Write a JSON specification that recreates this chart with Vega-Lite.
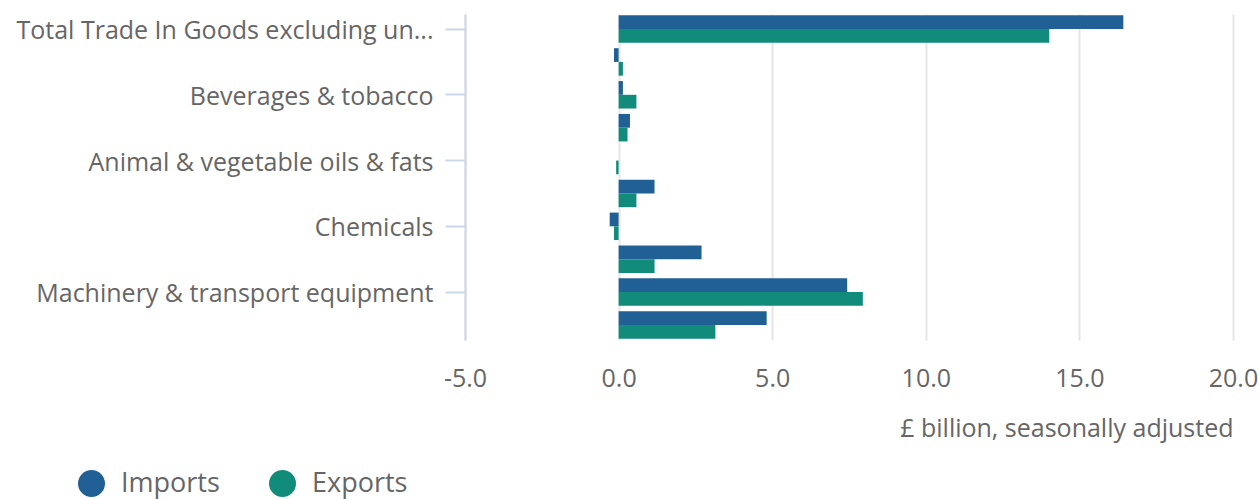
{
  "$schema": "https://vega.github.io/schema/vega-lite/v6.json",
  "width": 768,
  "height": 326,
  "autosize": {"type": "none"},
  "padding": {"left": 465, "top": 14, "right": 27, "bottom": 159},
  "background": "white",
  "config": {"font": "Open Sans", "view": {"stroke": null}},
  "data": {
    "values": [
      {"category": "Total Trade In Goods excluding unspecified goods", "series": "Imports", "value": 16.43},
      {"category": "Total Trade In Goods excluding unspecified goods", "series": "Exports", "value": 14.02},
      {"category": "Food & live animals", "series": "Imports", "value": -0.15},
      {"category": "Food & live animals", "series": "Exports", "value": 0.14},
      {"category": "Beverages & tobacco", "series": "Imports", "value": 0.14},
      {"category": "Beverages & tobacco", "series": "Exports", "value": 0.58},
      {"category": "Crude materials", "series": "Imports", "value": 0.37},
      {"category": "Crude materials", "series": "Exports", "value": 0.29},
      {"category": "Animal & vegetable oils & fats", "series": "Imports", "value": 0.0},
      {"category": "Animal & vegetable oils & fats", "series": "Exports", "value": -0.08},
      {"category": "Fuels", "series": "Imports", "value": 1.17},
      {"category": "Fuels", "series": "Exports", "value": 0.58},
      {"category": "Chemicals", "series": "Imports", "value": -0.29},
      {"category": "Chemicals", "series": "Exports", "value": -0.15},
      {"category": "Material manufactures", "series": "Imports", "value": 2.7},
      {"category": "Material manufactures", "series": "Exports", "value": 1.17},
      {"category": "Machinery & transport equipment", "series": "Imports", "value": 7.44},
      {"category": "Machinery & transport equipment", "series": "Exports", "value": 7.95},
      {"category": "Miscellaneous manufactures", "series": "Imports", "value": 4.82},
      {"category": "Miscellaneous manufactures", "series": "Exports", "value": 3.15}
    ]
  },
  "mark": {"type": "bar"},
  "encoding": {
    "y": {
      "field": "category",
      "type": "nominal",
      "sort": null,
      "scale": {"paddingInner": 0.165, "paddingOuter": 0.04},
      "axis": {
        "title": null,
        "values": ["Total Trade In Goods excluding unspecified goods", "Beverages & tobacco", "Animal & vegetable oils & fats", "Chemicals", "Machinery & transport equipment"],
        "labelExpr": "truncate(datum.label, 36, 'right', '...')",
        "labelLimit": 600,
        "labelFontSize": 25,
        "labelColor": "#666666",
        "labelPadding": 12,
        "labelOffset": 2,
        "tickSize": 20,
        "tickColor": "#ccd6eb",
        "tickWidth": 2,
        "domainColor": "#ccd6eb",
        "domainWidth": 2,
        "grid": false
      }
    },
    "yOffset": {"field": "series", "type": "nominal", "sort": ["Imports", "Exports"]},
    "x": {
      "field": "value",
      "type": "quantitative",
      "scale": {"domain": [-5, 20], "nice": false},
      "axis": {
        "values": [-5, 0, 5, 10, 15, 20],
        "format": ".1f",
        "labelExpr": "replace(datum.label, '\u2212', '-')",
        "labelFlush": false,
        "title": "£ billion, seasonally adjusted",
        "titleAnchor": "end",
        "titleFontSize": 25,
        "titleFontWeight": "normal",
        "titleColor": "#666666",
        "titlePadding": 25,
        "labelFontSize": 25,
        "labelColor": "#666666",
        "labelPadding": 26,
        "ticks": false,
        "domain": false,
        "grid": true,
        "gridColor": "#e6e6e6",
        "gridWidth": 2
      }
    },
    "color": {
      "field": "series",
      "type": "nominal",
      "scale": {"domain": ["Imports", "Exports"], "range": ["#206095", "#118c7b"]},
      "legend": {
        "orient": "none",
        "legendX": -387,
        "legendY": 456,
        "direction": "horizontal",
        "title": null,
        "symbolType": "circle",
        "symbolSize": 729,
        "symbolStrokeWidth": 0,
        "labelFontSize": 27,
        "labelColor": "#666666",
        "labelOffset": 16,
        "columnPadding": 49
      }
    }
  }
}
